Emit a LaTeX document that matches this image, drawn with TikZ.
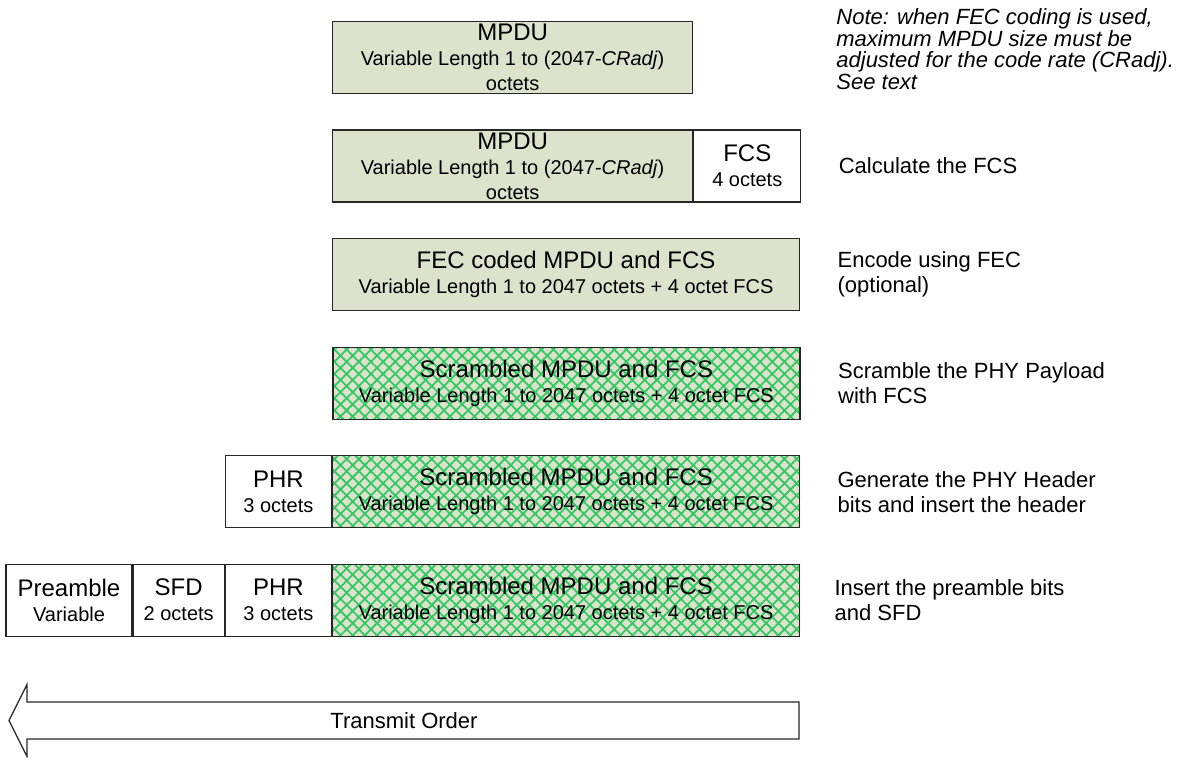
\documentclass[tikz,border=0pt]{standalone}
\usepackage{fontspec}
\setmainfont{Liberation Sans}
\usepackage{xcolor}
\usetikzlibrary{positioning, patterns.meta}

\definecolor{fieldfill}{RGB}{221,226,204}
\definecolor{hatchgreen}{RGB}{50,200,100}
\newcommand{\ftitle}[1]{{\fontsize{12}{14}\selectfont #1}}

\begin{document}
\begin{tikzpicture}[
    field/.style={rectangle, draw=black!85, line width=0.6pt, fill=fieldfill, minimum height=36pt, inner sep=0pt, align=center, font=\fontsize{10}{12.5}\selectfont},
    plain/.style={field, fill=white},
    scrambled/.style={field, preaction={fill=fieldfill}, pattern={Hatch[angle=45, distance=4.3pt, line width=0.9pt]}, pattern color=hatchgreen},
    steplabel/.style={align=left, inner sep=0pt, font=\fontsize{11}{12.5}\selectfont},
    node distance=17.6pt
]
\useasboundingbox (0,0) rectangle (591.5pt,-378.5pt);

% Frame at each stage
\node[field, minimum width=180pt, anchor=north west] (mpdu) at (166pt,-10.5pt) {\ftitle{MPDU}\\Variable Length 1 to (2047-\textit{CRadj})\\octets};

\node[field, minimum width=180pt, below right=17.6pt and 0pt of mpdu.south west] (mpduB) {\ftitle{MPDU}\\Variable Length 1 to (2047-\textit{CRadj})\\octets};
\node[plain, minimum width=53.5pt, right=0pt of mpduB] (fcs) {\ftitle{FCS}\\4 octets};

\node[field, minimum width=233.5pt, below right=17.6pt and 0pt of mpduB.south west] (fec) {\ftitle{FEC coded MPDU and FCS}\\Variable Length 1 to 2047 octets + 4 octet FCS};

\node[scrambled, minimum width=233.5pt, below right=17.6pt and 0pt of fec.south west] (scrA) {\ftitle{Scrambled MPDU and FCS}\\Variable Length 1 to 2047 octets + 4 octet FCS};

\node[scrambled, minimum width=233.5pt, below right=17.6pt and 0pt of scrA.south west] (scrB) {\ftitle{Scrambled MPDU and FCS}\\Variable Length 1 to 2047 octets + 4 octet FCS};
\node[plain, minimum width=53pt, left=0pt of scrB] (phrA) {\ftitle{PHR}\\3 octets};

\node[scrambled, minimum width=233.5pt, below right=17.6pt and 0pt of scrB.south west] (scrC) {\ftitle{Scrambled MPDU and FCS}\\Variable Length 1 to 2047 octets + 4 octet FCS};
\node[plain, minimum width=53pt, left=0pt of scrC] (phrB) {\ftitle{PHR}\\3 octets};
\node[plain, minimum width=45.5pt, left=0pt of phrB] (sfd) {\ftitle{SFD}\\2 octets};
\node[plain, minimum width=63pt, left=0pt of sfd] (pre) {\ftitle{Preamble}\\Variable};

% Step descriptions
\node[steplabel, anchor=north west, font=\fontsize{11}{10.9}\selectfont\itshape] (note) at (418pt,-4pt) {Note: when FEC coding is used,\\maximum MPDU size must be\\adjusted for the code rate (CRadj).\\See text};
\node[steplabel, right=18.5pt of fcs] (calc) {Calculate the FCS};
\node[steplabel, right=18.5pt of fec] (enc) {Encode using FEC\\(optional)};
\node[steplabel, right=18.5pt of scrA] (scr) {Scramble the PHY Payload\\with FCS};
\node[steplabel, right=18.5pt of scrB] (gen) {Generate the PHY Header\\bits and insert the header};
\node[steplabel, right=17pt of scrC] (ins) {Insert the preamble bits\\and SFD};

% Transmit order arrow
\node[font=\fontsize{11}{13}\selectfont] (xmit) at (202pt,-360.25pt) {Transmit Order};
\draw[line width=0.6pt, black!85] (399.5pt,-351pt) -- (13.5pt,-351pt) -- (13.5pt,-342.25pt) -- (4.5pt,-360.25pt) -- (13.5pt,-378.25pt) -- (13.5pt,-369.5pt) -- (399.5pt,-369.5pt) -- cycle;

\end{tikzpicture}
\end{document}
